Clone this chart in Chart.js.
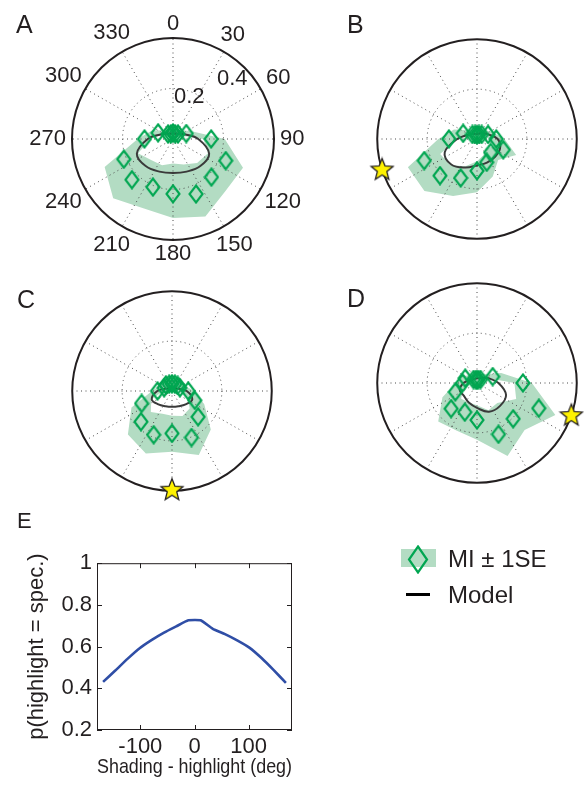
<!DOCTYPE html>
<html>
<head>
<meta charset="utf-8">
<script src="https://cdn.jsdelivr.net/npm/chart.js@4.4.1/dist/chart.umd.min.js"></script>
<style>
body{margin:0;width:587px;height:789px;overflow:hidden;background:#fff;position:relative;font-family:"Liberation Sans",Arial,sans-serif;color:#231f20}
canvas{position:absolute}
.letter{position:absolute;font-size:25px;line-height:1}
.leg{position:absolute;font-size:24px;line-height:1;white-space:nowrap}
</style>
</head>
<body>
<canvas id="pa"></canvas>
<canvas id="pb"></canvas>
<canvas id="pc"></canvas>
<canvas id="pd"></canvas>
<canvas id="pe" width="310" height="244" style="left:0;top:545px"></canvas>

<div class="letter" style="left:16px;top:12px">A</div>
<div class="letter" style="left:347px;top:12px">B</div>
<div class="letter" style="left:17px;top:287px">C</div>
<div class="letter" style="left:347px;top:286px">D</div>
<div class="letter" style="left:17px;top:510px;font-size:22px">E</div>

<div style="position:absolute;left:401px;top:549px;width:35px;height:18px;background:#b3dcc3"></div>
<svg style="position:absolute;left:407px;top:545px" width="22" height="29"><polygon points="11,1.5 20,14.5 11,27.5 2,14.5" fill="none" stroke="#00a651" stroke-width="2.2"/></svg>
<div class="leg" style="left:448px;top:547px">MI ± 1SE</div>
<div style="position:absolute;left:406px;top:593px;width:24px;height:2.5px;background:#000"></div>
<div class="leg" style="left:448px;top:583px">Model</div>

<script>
// condition angles (deg, 0 = up, clockwise) shared by all polar panels
const angles = [0, 22.5, 45, 67.5, 90, 112.5, 135, 157.5, 180, 202.5, 225, 247.5, 270, 292.5, 315, 337.5]
const gridAngles = [0, 30, 60, 90, 120, 150, 180, 210, 240, 270, 300, 330]
const ringTicks = [0.2, 0.4]
const rMax = 0.4

// panel A
const aMI    = [0.024, 0.022, 0.028, 0.057, 0.151, 0.226, 0.215, 0.238, 0.219, 0.208, 0.230, 0.211, 0.113, 0.064, 0.028, 0.022]
const aLo    = [0.005, 0.005, 0.010, 0.035, 0.120, 0.150, 0.135, 0.110, 0.098, 0.113, 0.120, 0.150, 0.087, 0.045, 0.010, 0.005]
const aHi    = [0.045, 0.040, 0.050, 0.080, 0.205, 0.300, 0.294, 0.335, 0.316, 0.300, 0.335, 0.293, 0.140, 0.090, 0.050, 0.045]
const aModel = [0.023, 0.024, 0.031, 0.049, 0.100, 0.155, 0.153, 0.141, 0.136, 0.141, 0.153, 0.155, 0.100, 0.049, 0.031, 0.024]

// panel B
const bMI    = [0.017, 0.020, 0.026, 0.048, 0.077, 0.114, 0.077, 0.102, 0.129, 0.171, 0.210, 0.229, 0.113, 0.060, 0.026, 0.020]
const bLo    = [0.003, 0.005, 0.010, 0.030, 0.055, 0.080, 0.050, 0.070, 0.090, 0.120, 0.150, 0.160, 0.080, 0.040, 0.010, 0.005]
const bHi    = [0.040, 0.045, 0.050, 0.070, 0.110, 0.170, 0.120, 0.165, 0.216, 0.250, 0.298, 0.300, 0.155, 0.100, 0.050, 0.040]
const bModel = [0.020, 0.025, 0.034, 0.049, 0.083, 0.100, 0.102, 0.104, 0.107, 0.125, 0.146, 0.140, 0.079, 0.042, 0.028, 0.023]
const bStar  = 252

// panel C
const cMI    = [0.029, 0.030, 0.032, 0.034, 0.065, 0.099, 0.148, 0.204, 0.172, 0.192, 0.176, 0.132, 0.058, 0.034, 0.035, 0.030]
const cLo    = [0.010, 0.010, 0.012, 0.015, 0.040, 0.070, 0.100, 0.110, 0.100, 0.100, 0.120, 0.090, 0.035, 0.015, 0.012, 0.010]
const cHi    = [0.050, 0.050, 0.052, 0.055, 0.090, 0.140, 0.220, 0.281, 0.246, 0.274, 0.250, 0.176, 0.080, 0.055, 0.052, 0.050]
const cModel = [0.011, 0.012, 0.015, 0.025, 0.059, 0.088, 0.077, 0.067, 0.064, 0.067, 0.077, 0.088, 0.059, 0.025, 0.015, 0.012]
const cStar  = 180

// panel D
const dMI    = [0.012, 0.015, 0.020, 0.068, 0.184, 0.268, 0.205, 0.225, 0.150, 0.128, 0.147, 0.094, 0.058, 0.051, 0.020, 0.015]
const dLo    = [0.003, 0.005, 0.008, 0.050, 0.150, 0.170, 0.115, 0.120, 0.090, 0.085, 0.090, 0.060, 0.040, 0.035, 0.008, 0.005]
const dHi    = [0.035, 0.040, 0.050, 0.105, 0.220, 0.340, 0.270, 0.320, 0.230, 0.210, 0.220, 0.150, 0.085, 0.070, 0.045, 0.035]
const dModel = [0.019, 0.021, 0.030, 0.050, 0.086, 0.126, 0.131, 0.126, 0.101, 0.086, 0.074, 0.075, 0.054, 0.031, 0.021, 0.019]
const dStar  = 109

// panel E
const eX = [-168.75, -146.25, -123.75, -101.25, -78.75, -56.25, -33.75, -11.25, 11.25, 33.75, 56.25, 78.75, 101.25, 123.75, 146.25, 168.75]
const eY = [0.431, 0.485, 0.541, 0.592, 0.632, 0.667, 0.697, 0.726, 0.726, 0.685, 0.660, 0.630, 0.595, 0.545, 0.487, 0.426]
const xTicks = [-100, 0, 100]
const yTicks = [0.2, 0.4, 0.6, 0.8, 1]

const FONT = '"Liberation Sans", Arial, sans-serif'
const INK = '#231f20'
const GREEN = '#00a651'
const BAND = '#b3dcc3'
const K = 265   // px per unit radius

Chart.defaults.font.family = FONT
Chart.defaults.color = INK

function toXY(r, a) {
  const t = a * Math.PI / 180
  return {x: r * Math.sin(t), y: r * Math.cos(t)}
}
function polar(rs) {
  return angles.map((a, i) => toXY(rs[i], a))
}
function loop(pts) {
  return pts.concat([pts[0]])
}
function band(lo, hi) {
  // outer ring then inner ring backwards -> hole in the middle
  return loop(polar(hi)).concat(loop(polar(lo)).reverse())
}

// marker images
const diamondImg = document.createElement('canvas')
diamondImg.width = 16; diamondImg.height = 20
let g = diamondImg.getContext('2d')
g.strokeStyle = GREEN; g.lineWidth = 2.1
g.beginPath(); g.moveTo(8, 1.5); g.lineTo(14.5, 10); g.lineTo(8, 18.5); g.lineTo(1.5, 10); g.closePath(); g.stroke()

const starImg = document.createElement('canvas')
starImg.width = 26; starImg.height = 26
g = starImg.getContext('2d')
g.beginPath()
for (let i = 0; i < 10; i++) {
  const rr = i % 2 ? 5 : 11.5
  const t = i * Math.PI / 5
  const px = 13 + rr * Math.sin(t), py = 13.5 - rr * Math.cos(t)
  i ? g.lineTo(px, py) : g.moveTo(px, py)
}
g.closePath()
g.fillStyle = '#fff200'; g.fill()
g.strokeStyle = INK; g.lineWidth = 1.3; g.stroke()

const polarGrid = {
  id: 'polarGrid',
  afterDatasetDraw(chart, args, opts) {
    if (args.index !== 3) return
    const ctx = chart.ctx, sx = chart.scales.x, sy = chart.scales.y
    const cx = sx.getPixelForValue(0), cy = sy.getPixelForValue(0)
    const R = sx.getPixelForValue(rMax) - cx
    ctx.save()
    ctx.strokeStyle = '#4a4a4a'
    ctx.lineWidth = 1
    ctx.setLineDash([1, 3.5])
    ringTicks.filter(r => r < rMax).forEach(r => {
      ctx.beginPath()
      ctx.arc(cx, cy, sx.getPixelForValue(r) - cx, 0, 2 * Math.PI)
      ctx.stroke()
    })
    gridAngles.forEach(a => {
      const p = toXY(rMax, a)
      ctx.beginPath()
      ctx.moveTo(cx, cy)
      ctx.lineTo(sx.getPixelForValue(p.x), sy.getPixelForValue(p.y))
      ctx.stroke()
    })
    ctx.setLineDash([])
    ctx.strokeStyle = INK
    ctx.lineWidth = 2
    ctx.beginPath()
    ctx.arc(cx, cy, R, 0, 2 * Math.PI)
    ctx.stroke()
    if (opts.labels) {
      ctx.fillStyle = INK
      ctx.font = '22px ' + FONT
      ctx.textAlign = 'center'
      ctx.textBaseline = 'middle'
      gridAngles.forEach(a => {
        const t = a * Math.PI / 180
        const w = ctx.measureText(String(a)).width
        const rr = 1.06 * R + w / 2 * Math.abs(Math.sin(t)) + 7.5 * Math.abs(Math.cos(t))
        ctx.fillText(String(a), cx + rr * Math.sin(t), cy - rr * Math.cos(t))
      })
      ctx.textAlign = 'left'
      ctx.textBaseline = 'alphabetic'
      ctx.fillText('0.2', sx.getPixelForValue(0.004), sy.getPixelForValue(0.143))
      ctx.fillText('0.4', sx.getPixelForValue(0.174), sy.getPixelForValue(0.215))
    }
    ctx.restore()
  }
}

function polarPanel(id, cx, cy, mi, lo, hi, model, star, labels) {
  const cv = document.getElementById(id)
  const W = 340, H = 290
  cv.width = W; cv.height = H
  cv.style.left = (cx - W / 2) + 'px'
  cv.style.top = (cy - H / 2) + 'px'
  new Chart(cv, {
    type: 'scatter',
    data: {
      datasets: [
        {data: star == null ? [] : [toXY(rMax, star)], pointStyle: starImg, pointRadius: 9, showLine: false},
        {data: polar(mi), pointStyle: diamondImg, pointRadius: 7, showLine: false},
        {data: loop(polar(model)), showLine: true, borderColor: '#3a3a3a', borderWidth: 2, pointRadius: 0, tension: 0.4},
        {data: band(lo, hi), showLine: true, borderColor: 'rgba(0,0,0,0)', borderWidth: 0, pointRadius: 0,
         tension: 0, fill: 'shape', backgroundColor: BAND}
      ]
    },
    options: {
      responsive: false,
      animation: false,
      events: [],
      layout: {padding: 0},
      plugins: {legend: {display: false}, tooltip: {enabled: false}, polarGrid: {labels: labels}},
      scales: {
        x: {type: 'linear', display: false, min: -W / 2 / K, max: W / 2 / K},
        y: {type: 'linear', display: false, min: -H / 2 / K, max: H / 2 / K}
      }
    },
    plugins: [polarGrid]
  })
}

polarPanel('pa', 173, 139, aMI, aLo, aHi, aModel, null, true)
polarPanel('pb', 477, 139, bMI, bLo, bHi, bModel, bStar, false)
polarPanel('pc', 172, 391, cMI, cLo, cHi, cModel, cStar, false)
polarPanel('pd', 477, 383, dMI, dLo, dHi, dModel, dStar, false)

// panel E: box with inward ticks like the original
const boxTicks = {
  id: 'boxTicks',
  afterDraw(chart) {
    const {ctx, chartArea: a} = chart
    const sx = chart.scales.x, sy = chart.scales.y
    ctx.save()
    ctx.strokeStyle = INK
    ctx.lineWidth = 1
    ctx.strokeRect(a.left + 0.5, a.top + 0.5, a.right - a.left - 1, a.bottom - a.top - 1)
    ctx.beginPath()
    xTicks.forEach(v => {
      const px = Math.round(sx.getPixelForValue(v)) + 0.5
      ctx.moveTo(px, a.bottom); ctx.lineTo(px, a.bottom - 5)
      ctx.moveTo(px, a.top); ctx.lineTo(px, a.top + 5)
    })
    yTicks.forEach(v => {
      const py = Math.round(sy.getPixelForValue(v)) + 0.5
      ctx.moveTo(a.left, py); ctx.lineTo(a.left + 5, py)
      ctx.moveTo(a.right, py); ctx.lineTo(a.right - 5, py)
    })
    ctx.stroke()
    ctx.restore()
  }
}

new Chart(document.getElementById('pe'), {
  type: 'scatter',
  data: {
    datasets: [{
      data: eX.map((x, i) => ({x: x, y: eY[i]})),
      showLine: true,
      borderColor: '#2f4ea6',
      borderWidth: 2.6,
      pointRadius: 0,
      tension: 0.15
    }]
  },
  options: {
    responsive: false,
    animation: false,
    events: [],
    layout: {padding: {top: 13, right: 18, left: 0, bottom: 0}},
    plugins: {legend: {display: false}, tooltip: {enabled: false}},
    scales: {
      x: {
        type: 'linear', min: -180, max: 180,
        afterBuildTicks: s => { s.ticks = xTicks.map(v => ({value: v})) },
        afterFit: s => { s.height = 59 },
        grid: {display: false, drawTicks: false},
        border: {display: false},
        ticks: {font: {size: 22}, color: INK, padding: 4, maxRotation: 0, autoSkip: false},
        title: {display: true, text: 'Shading - highlight (deg)', font: {size: 21}, color: INK, padding: {top: 0, bottom: 9}}
      },
      y: {
        type: 'linear', min: 0.2, max: 1,
        afterBuildTicks: s => { s.ticks = yTicks.map(v => ({value: v})) },
        afterFit: s => { s.width = 97 },
        grid: {display: false, drawTicks: false},
        border: {display: false},
        ticks: {font: {size: 22}, color: INK, padding: 5, autoSkip: false, callback: v => String(+v.toFixed(1))},
        title: {display: true, text: 'p(highlight = spec.)', font: {size: 22}, color: INK, padding: {top: 24, bottom: 0}}
      }
    }
  },
  plugins: [boxTicks]
})
</script>
</body>
</html>
